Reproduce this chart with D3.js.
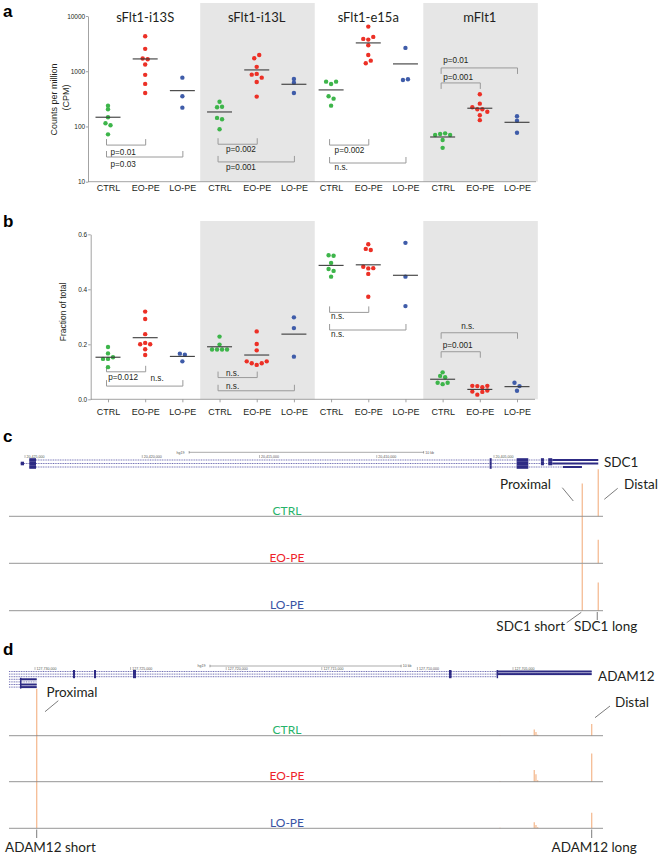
<!DOCTYPE html>
<html><head><meta charset="utf-8">
<script src="https://cdn.jsdelivr.net/npm/d3@7"></script>
<style>body{margin:0;background:#fff}svg{display:block}</style>
</head><body>
<svg id="chart" width="660" height="857"></svg>
<script>
// ================= DATA =================
const groups = ["sFlt1-i13S", "sFlt1-i13L", "sFlt1-e15a", "mFlt1"];
const conditions = ["CTRL", "EO-PE", "LO-PE"];
const cpmTicks = [10, 100, 1000, 10000];
const fracTicks = [0.0, 0.2, 0.4, 0.6];

// panel a: counts per million, one list per group
const cpmCTRL = [
  [238, 205, 147, 114, 105, 72],
  [281, 223, 228, 143, 135, 89],
  [648, 589, 648, 352, 319, 238],
  [70, 73, 75, 70, 57, 41]
];
const cpmEOPE = [
  [4300, 2540, 1700, 1650, 1320, 860, 590, 404],
  [1720, 1970, 1200, 867, 894, 766, 640, 347],
  [6430, 3850, 3740, 4180, 2960, 1970, 1396, 1556],
  [383, 259, 223, 205, 205, 185, 160, 130]
];
const cpmLOPE = [
  [766, 352, 219],
  [725, 621, 404],
  [2644, 696, 716],
  [153, 127, 77]
];
const cpmMid = [[147, 1670, 445], [183, 1056, 581], [459, 3256, 1357], [64.5, 214, 119]];

// panel b: fraction of total
const fracCTRL = [
  [0.190, 0.167, 0.147, 0.147, 0.153, 0.117],
  [0.228, 0.199, 0.181, 0.181, 0.181, 0.181],
  [0.524, 0.522, 0.496, 0.474, 0.467, 0.446],
  [0.098, 0.085, 0.080, 0.060, 0.055, 0.060]
];
const fracEOPE = [
  [0.319, 0.292, 0.237, 0.200, 0.205, 0.200, 0.182, 0.161],
  [0.247, 0.201, 0.178, 0.138, 0.131, 0.125, 0.131, 0.138],
  [0.564, 0.547, 0.543, 0.482, 0.476, 0.477, 0.456, 0.373],
  [0.049, 0.048, 0.044, 0.049, 0.028, 0.017, 0.027, 0.032]
];
const fracLOPE = [
  [0.166, 0.162, 0.138],
  [0.298, 0.259, 0.155],
  [0.569, 0.446, 0.339],
  [0.060, 0.048, 0.031]
];
const fracMid = [[0.153, 0.224, 0.156], [0.191, 0.161, 0.237], [0.487, 0.489, 0.451], [0.073, 0.036, 0.046]];

// significance brackets (group, compared condition, level in data units, label)
const sigA = [
  [0, "EO-PE", 46, "p=0.01"], [0, "LO-PE", 28, "p=0.03"],
  [1, "EO-PE", 47.7, "p=0.002"], [1, "LO-PE", 22.8, "p=0.001"],
  [2, "EO-PE", 46, "p=0.002"], [2, "LO-PE", 21.8, "n.s."],
  [3, "LO-PE", 1148, "p=0.01"], [3, "EO-PE", 614, "p=0.001"]
];
const sigB = [
  [0, "EO-PE", 0.100, "p=0.012"], [0, "LO-PE", 0.048, "n.s."],
  [1, "EO-PE", 0.079, "n.s."], [1, "LO-PE", 0.031, "n.s."],
  [2, "EO-PE", 0.316, "n.s."], [2, "LO-PE", 0.252, "n.s."],
  [3, "LO-PE", 0.242, "n.s."], [3, "EO-PE", 0.173, "p=0.001"]
];

// panel c: SDC1 (hg19, chr2)
const sdc1Ticks = [20425000, 20420000, 20415000, 20410000, 20405000];
const sdc1Transcripts = [[20424817, 20400554, 0], [20425183, 20400554, 1], [20424817, 20401250, 2]];
const sdc1Exons = [
  [20424817, 20424531, 0, "c"], [20405185, 20405100, 0, "c"], [20404034, 20403539, 0, "c"],
  [20403000, 20402870, 0, "c"], [20402687, 20402516, 0, "c"], [20402516, 20400554, 0, "u"],
  [20425183, 20425043, 1, "c"], [20424817, 20424531, 1, "c"], [20405185, 20405100, 1, "c"],
  [20404034, 20403539, 1, "c"], [20403000, 20402870, 1, "c"], [20402687, 20402516, 1, "c"],
  [20402516, 20400554, 1, "u"],
  [20424817, 20424531, 2, "c"], [20405185, 20405100, 2, "c"], [20404034, 20403539, 2, "c"],
  [20402060, 20401250, 2, "u"]
];
const sdc1Scale = [20418000, 20408000];
const sdc1Peaks = [20401236, 20400554];           // proximal, distal
const sdc1CovCTRL = [0.70, 1.00];
const sdc1CovEOPE = [1.00, 0.50];
const sdc1CovLOPE = [1.00, 0.60];

// panel d: ADAM12 (hg19, chr10)
const adamTicks = [127730000, 127725000, 127720000, 127715000, 127710000, 127705000];
const adamTranscripts = [
  [127731360, 127700884, 0], [127731360, 127700884, 1], [127731360, 127705800, 2],
  [127731360, 127729911, 3], [127731360, 127729911, 4], [127731360, 127729911, 5], [127731360, 127729911, 6]
];
const adamExons = [
  [127728013, 127727908, 0, "c"], [127726914, 127726810, 0, "c"], [127724875, 127724718, 0, "c"],
  [127708348, 127708217, 0, "c"], [127705853, 127705790, 0, "c"], [127705853, 127700884, 0, "u"],
  [127728013, 127727908, 1, "c"], [127726914, 127726810, 1, "c"], [127724875, 127724718, 1, "c"],
  [127708348, 127708217, 1, "c"], [127705853, 127705790, 1, "c"], [127705853, 127700884, 1, "u"],
  [127728013, 127727908, 2, "c"], [127726914, 127726810, 2, "c"], [127724875, 127724718, 2, "c"],
  [127708348, 127708217, 2, "c"], [127705853, 127705790, 2, "c"],
  [127730785, 127730740, 3, "c"], [127730785, 127730740, 4, "c"], [127730785, 127730740, 5, "c"], [127730785, 127730740, 6, "c"],
  [127730785, 127729911, 3, "u"], [127730785, 127729911, 5, "u"], [127730785, 127729911, 6, "u"]
];
const adamScale = [127720850, 127710850];
const adamPeaks = [127729911, 127705680, 127703888, 127703799, 127703710, 127700884];
const adamCovCTRL = [1.00, 0.01, 0.13, 0.08, 0.02, 0.25];
const adamCovEOPE = [1.00, 0.01, 0.25, 0.16, 0.03, 0.60];
const adamCovLOPE = [1.00, 0.01, 0.13, 0.07, 0.02, 0.33];

// ================= DRAWING =================
const svg = d3.select("#chart");
svg.append("rect").attr("width", 660).attr("height", 857).attr("fill", "#fff");
const INK = "#231f20";
const FA = "'Liberation Sans', Arial, Helvetica, sans-serif";
const FM = "Lato, 'Open Sans', sans-serif";
const AXC = "#8c8c8c";
const dotColor = {"CTRL": "#3db54a", "EO-PE": "#ec3026", "LO-PE": "#3f5ca9"};
const labColor = {"CTRL": "#27b36a", "EO-PE": "#ee2229", "LO-PE": "#3853a4"};
const shaded = [false, true, false, true];

const keys = groups.flatMap(g => conditions.map(c => g + "|" + c));
const x = d3.scalePoint().domain(keys).range([108, 517]);
const step = x.step();
const K = (gi, c) => groups[gi] + "|" + c;

function dodge(ys, gapMax, spanMax, sp) {
  const order = d3.range(ys.length).sort((a, b) => ys[a] - ys[b]);
  const rows = []; let cur = null, prev = null;
  for (const i of order) {
    if (cur && ys[i] - prev <= gapMax && ys[i] - cur.start <= spanMax) cur.items.push(i);
    else { cur = {start: ys[i], items: [i]}; rows.push(cur); }
    prev = ys[i];
  }
  const off = new Array(ys.length);
  rows.forEach(r => {
    r.items.sort((a, b) => a - b);
    const n = r.items.length;
    r.items.forEach((i, j) => off[i] = (j - (n - 1) / 2) * sp);
  });
  return off;
}

function panelLabel(t, px, py) {
  svg.append("text").attr("x", px).attr("y", py).text(t)
    .attr("font-family", FA).attr("font-weight", "bold").attr("font-size", 17).attr("fill", "#000");
}

function styleAxis(sel, fs) {
  sel.select(".domain").attr("stroke", AXC).attr("stroke-width", 0.8);
  sel.selectAll(".tick line").attr("stroke", AXC).attr("stroke-width", 0.8);
  sel.selectAll(".tick text").attr("fill", INK).attr("font-family", FA).attr("font-size", fs);
}

function scatter(g, y, top, series, mids, sigs, sigStyle) {
  const base = y.range()[0];
  groups.forEach((gr, gi) => {
    if (!shaded[gi]) return;
    g.append("rect").attr("x", x(K(gi, "CTRL")) - 0.52 * step).attr("y", top)
      .attr("width", x(K(gi, "LO-PE")) - x(K(gi, "CTRL")) + 1.08 * step)
      .attr("height", base - top).attr("fill", "#e6e6e6");
  });
  // brackets
  sigs.forEach((s, i) => {
    const [gi, to, lv, label] = s;
    const st = sigStyle[i];
    const x0 = x(K(gi, "CTRL")) - 1.5, x1 = x(K(gi, to)) + 0.5, yy = y(lv);
    const t = yy - st.dir * 6;
    g.append("path").attr("d", `M${x0},${t}V${yy}H${x1}V${t}`)
      .attr("fill", "none").attr("stroke", "#9a9a9a").attr("stroke-width", 1);
    g.append("text").attr("x", x0 + st.lx).attr("y", yy + st.ly).text(label)
      .attr("font-family", FA).attr("font-size", 8.2).attr("fill", INK);
  });
  // dots and centre lines
  groups.forEach((gr, gi) => {
    conditions.forEach((c, ci) => {
      const vals = series[ci][gi];
      const ys = vals.map(v => y(v));
      const off = dodge(ys, 3.4, 4.5, 5);
      const cx = x(K(gi, c));
      g.selectAll(null).data(vals).enter().append("circle")
        .attr("cx", (d, i) => cx + off[i]).attr("cy", d => y(d)).attr("r", 2.2)
        .attr("fill", dotColor[c]);
      g.append("line").attr("x1", cx - 12.5).attr("x2", cx + 12.5)
        .attr("y1", y(mids[gi][ci])).attr("y2", y(mids[gi][ci]))
        .attr("stroke", "#3a3a3a").attr("stroke-width", 1.1);
    });
  });
}

// ---------- panel a ----------
panelLabel("a", 3, 17);
const yA = d3.scaleLog().domain([10, 10000]).range([181.7, 16]);
const gA = svg.append("g");
scatter(gA, yA, 3, [cpmCTRL, cpmEOPE, cpmLOPE], cpmMid, sigA, [
  {dir: 1, lx: 4, ly: 10}, {dir: 1, lx: 4, ly: 9.5},
  {dir: 1, lx: 8, ly: 8.2}, {dir: 1, lx: 8, ly: 8},
  {dir: 1, lx: 5, ly: 7.5}, {dir: 1, lx: 5, ly: 7},
  {dir: -1, lx: 2, ly: -5.3}, {dir: -1, lx: 2, ly: -2.8}
]);
gA.append("line").attr("x1", 88).attr("x2", 536).attr("y1", yA(10)).attr("y2", yA(10))
  .attr("stroke", AXC).attr("stroke-width", 0.8);
const axYA = gA.append("g").attr("transform", "translate(88,0)")
  .call(d3.axisLeft(yA).tickValues(cpmTicks).tickFormat(d3.format("d")).tickSize(2).tickSizeOuter(0).tickPadding(0.8));
styleAxis(axYA, 6.5);
const axXA = gA.append("g").attr("transform", `translate(0,${yA(10)})`)
  .call(d3.axisBottom(x).tickFormat(d => d.split("|")[1]).tickSize(0).tickPadding(2.5));
axXA.select(".domain").remove();
styleAxis(axXA, 9);
groups.forEach((gr, gi) => {
  gA.append("text").attr("x", x(K(gi, "EO-PE"))).attr("y", 21.5).attr("text-anchor", "middle")
    .text(gr).attr("font-family", FM).attr("font-size", 13).attr("fill", INK);
});
gA.append("text").attr("transform", "translate(57,99.5) rotate(-90)").attr("text-anchor", "middle")
  .text("Counts per million").attr("font-family", FA).attr("font-size", 9).attr("fill", INK);
gA.append("text").attr("transform", "translate(69,97.5) rotate(-90)").attr("text-anchor", "middle")
  .text("(CPM)").attr("font-family", FA).attr("font-size", 9).attr("fill", INK);

// ---------- panel b ----------
panelLabel("b", 3, 227);
const yB = d3.scaleLinear().domain([0, 0.6]).range([399.3, 234.3]);
const gB = svg.append("g");
scatter(gB, yB, 221, [fracCTRL, fracEOPE, fracLOPE], fracMid, sigB, [
  {dir: 1, lx: 1.7, ly: 8.4}, {dir: 1, lx: 44, ly: -5.5},
  {dir: 1, lx: 8, ly: -1.8}, {dir: 1, lx: 8, ly: -1.5},
  {dir: 1, lx: 1.5, ly: 6.7}, {dir: 1, lx: 1.5, ly: 6.7},
  {dir: -1, lx: 20, ly: -3.7}, {dir: -1, lx: 1.6, ly: -4}
]);
gB.append("line").attr("x1", 90.7).attr("x2", 535).attr("y1", yB(0)).attr("y2", yB(0))
  .attr("stroke", AXC).attr("stroke-width", 0.8);
const axYB = gB.append("g").attr("transform", "translate(90.7,0)")
  .call(d3.axisLeft(yB).tickValues(fracTicks).tickFormat(d3.format(".1f")).tickSize(2.5).tickSizeOuter(0).tickPadding(1));
styleAxis(axYB, 6.5);
const axXB = gB.append("g").attr("transform", `translate(0,${yB(0)})`)
  .call(d3.axisBottom(x).tickFormat(d => d.split("|")[1]).tickSize(3).tickPadding(6.2));
axXB.select(".domain").remove();
styleAxis(axXB, 9);
gB.append("text").attr("transform", "translate(65.5,312) rotate(-90)").attr("text-anchor", "middle")
  .text("Fraction of total").attr("font-family", FA).attr("font-size", 8.5).attr("fill", INK);

// ---------- genome browser panels ----------
const GENE = "#2d2a84";
const PEAK = "#f5bc94";
function ruler(g, xs, ticks, ty) {
  ticks.forEach(t => {
    g.append("line").attr("x1", xs(t)).attr("x2", xs(t)).attr("y1", ty - 3).attr("y2", ty)
      .attr("stroke", "#555").attr("stroke-width", 0.4);
    g.append("text").attr("x", xs(t) + 1.6).attr("y", ty).text(d3.format(",")(t))
      .attr("font-family", FA).attr("font-size", 3.6).attr("fill", "#555");
  });
}
function scaleBar(g, xs, ends, by, hx) {
  const a = xs(ends[0]), b = xs(ends[1]);
  g.append("text").attr("x", hx).attr("y", by + 1.3).text("hg19")
    .attr("font-family", FA).attr("font-size", 3.6).attr("fill", "#555");
  g.append("path").attr("d", `M${a},${by - 1.3}V${by + 1.3}M${a},${by}H${b}M${b},${by - 1.3}V${by + 1.3}`)
    .attr("stroke", "#555").attr("stroke-width", 0.5).attr("fill", "none");
  g.append("text").attr("x", b + 1.5).attr("y", by + 1.3).text("10 kb")
    .attr("font-family", FA).attr("font-size", 3.6).attr("fill", "#555");
}
function geneModel(g, xs, rowY, transcripts, exons, cdsH, utrH) {
  transcripts.forEach(t => {
    g.append("line").attr("x1", xs(t[0])).attr("x2", xs(t[1])).attr("y1", rowY(t[2])).attr("y2", rowY(t[2]))
      .attr("stroke", "#4a48a0").attr("stroke-width", 0.8).attr("stroke-dasharray", "1,0.7");
  });
  exons.forEach(e => {
    const h = e[3] === "u" ? utrH : cdsH;
    const a = Math.min(xs(e[0]), xs(e[1]));
    const w = Math.max(1.4, Math.abs(xs(e[1]) - xs(e[0])));
    g.append("rect").attr("x", a).attr("y", rowY(e[2]) - h / 2).attr("width", w).attr("height", h).attr("fill", GENE);
  });
}
function tracks(g, xs, baselines, peaks, covs, H) {
  conditions.forEach((c, i) => {
    const b = baselines[i];
    const yc = d3.scaleLinear().domain([0, 1]).range([b, b - H]);
    covs[i].forEach((v, j) => {
      g.append("line").attr("x1", xs(peaks[j])).attr("x2", xs(peaks[j]))
        .attr("y1", yc(0)).attr("y2", yc(v)).attr("stroke", PEAK).attr("stroke-width", 1.3);
    });
  });
  conditions.forEach((c, i) => {
    const b = baselines[i];
    g.append("line").attr("x1", 9).attr("x2", 603).attr("y1", b).attr("y2", b)
      .attr("stroke", "#8a8a8a").attr("stroke-width", 0.9);
    g.append("text").attr("x", 287).attr("y", b - 1.6).attr("text-anchor", "middle").text(c)
      .attr("font-family", FM).attr("font-size", 12).attr("fill", labColor[c]);
  });
}
function note(g, t, tx, ty, anchor) {
  g.append("text").attr("x", tx).attr("y", ty).text(t).attr("text-anchor", anchor || "start")
    .attr("font-family", FM).attr("font-size", 13.5).attr("fill", INK);
}
function stroke(g, x1, y1, x2, y2) {
  g.append("line").attr("x1", x1).attr("y1", y1).attr("x2", x2).attr("y2", y2)
    .attr("stroke", "#444").attr("stroke-width", 0.7);
}

// ---------- panel c ----------
panelLabel("c", 3, 441.5);
const gC = svg.append("g");
const xC = d3.scaleLinear().domain([20425000, 20405000]).range([25, 494]);
ruler(gC, xC, sdc1Ticks, 458);
scaleBar(gC, xC, sdc1Scale, 452.3, 176.5);
geneModel(gC, xC, r => 460 + r * 3.5, sdc1Transcripts, sdc1Exons, 3.6, 2);
tracks(gC, xC, [516.3, 563.3, 610.7], sdc1Peaks, [sdc1CovCTRL, sdc1CovEOPE, sdc1CovLOPE], 47);
note(gC, "SDC1", 604, 467.3);
note(gC, "Proximal", 500, 489);
note(gC, "Distal", 624, 489);
stroke(gC, 562.3, 487.7, 573.3, 501);
stroke(gC, 617.7, 488.3, 604.3, 499.3);
note(gC, "SDC1 short", 565, 630.5, "end");
note(gC, "SDC1 long", 574, 630.5);
stroke(gC, 566.7, 622.7, xC(sdc1Peaks[0]) - 1, 612.3);
stroke(gC, xC(sdc1Peaks[1]) - 1, 612, xC(sdc1Peaks[1]) - 1, 620);

// ---------- panel d ----------
panelLabel("d", 3, 655);
const gD = svg.append("g");
const xD = d3.scaleLinear().domain([127730000, 127705000]).range([35, 513]);
ruler(gD, xD, adamTicks, 670);
scaleBar(gD, xD, adamScale, 666, 197.5);
geneModel(gD, xD, r => 671.5 + r * 2.6, adamTranscripts, adamExons, 3, 2);
tracks(gD, xD, [735.7, 781.7, 828.3], adamPeaks, [adamCovCTRL, adamCovEOPE, adamCovLOPE], 47);
note(gD, "ADAM12", 598, 681);
note(gD, "Proximal", 46.5, 696.7);
note(gD, "Distal", 615, 706.7);
stroke(gD, 58.3, 700.7, 45, 711.7);
stroke(gD, 610, 706, 595, 717.7);
note(gD, "ADAM12 short", 5, 852);
note(gD, "ADAM12 long", 551.5, 852);
stroke(gD, xD(adamPeaks[0]), 829.5, xD(adamPeaks[0]), 838);
stroke(gD, xD(adamPeaks[5]), 829.5, xD(adamPeaks[5]), 838);
</script>
</body></html>
